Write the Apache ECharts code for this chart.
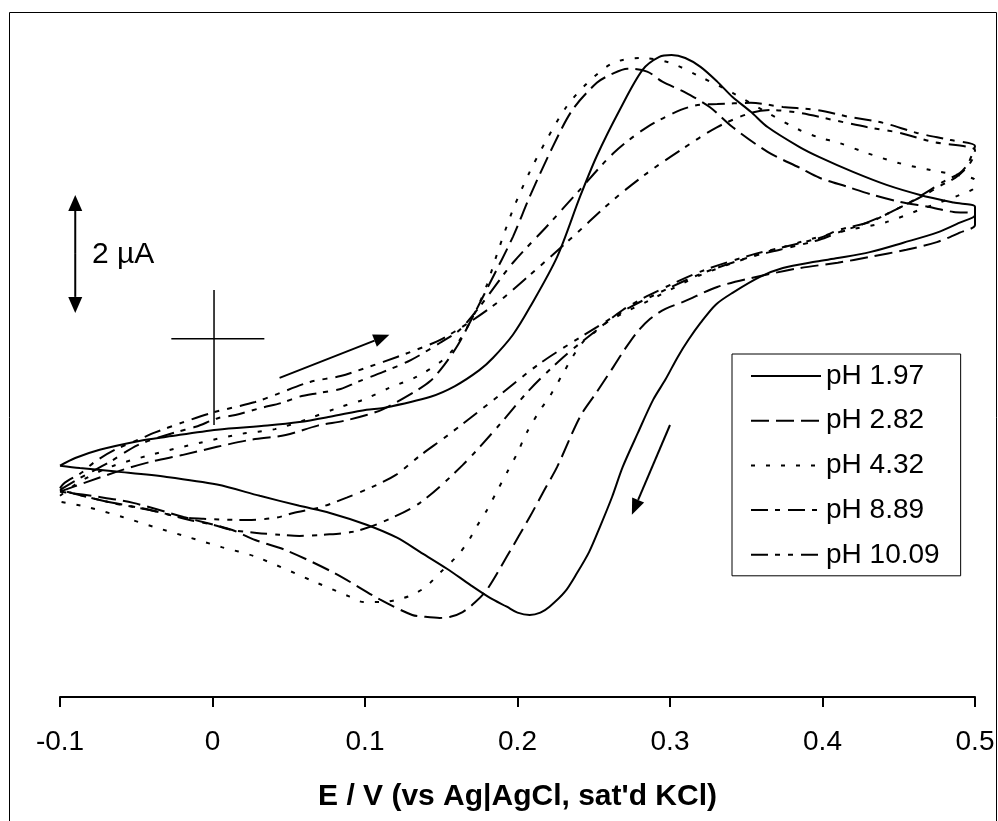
<!DOCTYPE html>
<html>
<head>
<meta charset="utf-8">
<script src="https://cdn.jsdelivr.net/npm/echarts@6/dist/echarts.min.js"></script>
<style>
html,body{margin:0;padding:0;background:#fff;}
#chart{width:998px;height:821px;}
</style>
</head>
<body>
<div id="chart"></div>
<script>
// Potential E (V vs Ag|AgCl) and current I (µA), as [E, I]
const seriesNames = ['pH 1.97', 'pH 2.82', 'pH 4.32', 'pH 8.89', 'pH 10.09'];
const xTicks = [-0.1, 0, 0.1, 0.2, 0.3, 0.4, 0.5];

const ph197 = [
  [-0.100,-2.15],[-0.090,-2.02],[-0.074,-1.88],[-0.048,-1.73],[-0.030,-1.66],[0.003,-1.54],
  [0.036,-1.47],[0.057,-1.41],[0.077,-1.32],[0.101,-1.20],[0.112,-1.17],[0.143,-0.98],
  [0.159,-0.80],[0.175,-0.53],[0.184,-0.32],[0.197,0.07],[0.208,0.53],[0.226,1.39],
  [0.241,2.41],[0.252,3.10],[0.267,3.88],[0.282,4.56],
  [0.293,4.78],[0.301,4.81],[0.310,4.76],[0.320,4.61],[0.331,4.36],[0.341,4.10],
  [0.353,3.85],[0.364,3.59],[0.385,3.25],[0.398,3.08],[0.420,2.83],[0.442,2.61],
  [0.464,2.44],[0.486,2.31],[0.500,2.24],
  [0.500,2.10],[0.490,1.97],[0.475,1.80],[0.453,1.63],[0.431,1.47],[0.410,1.37],
  [0.396,1.31],[0.374,1.20],[0.359,1.05],[0.341,0.78],[0.330,0.58],[0.320,0.27],
  [0.312,-0.02],[0.305,-0.31],[0.297,-0.69],[0.289,-1.03],[0.279,-1.59],[0.269,-2.17],
  [0.262,-2.68],[0.254,-3.19],[0.247,-3.61],[0.239,-3.97],[0.231,-4.29],[0.221,-4.54],
  [0.215,-4.64],[0.208,-4.68],[0.200,-4.64],[0.193,-4.54],[0.182,-4.39],[0.169,-4.17],
  [0.154,-3.90],[0.136,-3.61],[0.121,-3.37],[0.101,-3.15],[0.077,-2.95],[0.057,-2.83],
  [0.031,-2.66],[0.003,-2.47],[-0.030,-2.34],[-0.063,-2.25],[-0.087,-2.19],[-0.100,-2.15]
];

const ph282 = [
  [-0.100,-2.59],[-0.084,-2.44],[-0.059,-2.22],[-0.040,-2.08],[-0.020,-1.97],[0.003,-1.83],
  [0.025,-1.71],[0.048,-1.63],[0.069,-1.47],[0.086,-1.39],[0.101,-1.29],[0.112,-1.19],
  [0.131,-0.92],[0.143,-0.71],[0.152,-0.44],[0.161,-0.10],[0.169,0.29],[0.182,0.95],
  [0.197,1.73],[0.208,2.41],[0.223,3.25],[0.236,3.88],[0.252,4.34],
  [0.262,4.49],[0.272,4.58],[0.285,4.53],[0.295,4.36],[0.309,4.19],[0.326,3.93],
  [0.341,3.59],[0.364,3.17],[0.385,2.90],[0.398,2.73],[0.416,2.58],[0.433,2.44],
  [0.451,2.32],[0.469,2.24],[0.486,2.15],[0.500,2.12],
  [0.500,1.93],[0.490,1.80],[0.475,1.64],[0.455,1.51],[0.431,1.39],[0.410,1.29],
  [0.385,1.20],[0.353,1.03],[0.331,0.88],[0.309,0.63],[0.297,0.51],[0.287,0.34],
  [0.278,0.10],[0.270,-0.19],[0.263,-0.47],[0.252,-0.90],[0.241,-1.32],[0.226,-2.17],
  [0.217,-2.59],[0.208,-3.02],
  [0.193,-3.69],[0.180,-4.25],[0.172,-4.47],[0.164,-4.63],[0.156,-4.71],[0.149,-4.73],
  [0.139,-4.71],[0.131,-4.68],[0.110,-4.42],[0.080,-3.97],[0.048,-3.58],[0.028,-3.41],
  [0.013,-3.24],[-0.019,-3.02],[-0.052,-2.78],[-0.074,-2.68],[-0.100,-2.59]
];

const ph432 = [
  [-0.100,-2.66],[-0.087,-2.42],[-0.067,-2.17],[-0.041,-1.97],[-0.008,-1.76],[0.019,-1.61],
  [0.041,-1.53],[0.061,-1.37],[0.082,-1.17],[0.099,-1.03],[0.116,-0.83],[0.134,-0.64],
  [0.151,-0.36],[0.159,-0.14],[0.166,0.15],[0.173,0.49],[0.180,0.92],[0.187,1.47],
  [0.197,2.19],[0.208,2.83],[0.219,3.37],[0.232,3.93],[0.246,4.34],[0.263,4.68],
  [0.282,4.76],[0.300,4.68],[0.320,4.44],[0.341,4.17],[0.364,3.83],[0.385,3.54],
  [0.398,3.41],[0.411,3.32],[0.429,3.15],[0.450,2.98],[0.471,2.86],[0.488,2.78],[0.500,2.69],
  [0.500,2.58],[0.490,2.44],[0.464,2.19],[0.442,1.98],[0.418,1.85],[0.398,1.73],
  [0.372,1.54],[0.353,1.39],[0.320,1.08],[0.287,0.66],[0.261,0.32],[0.250,0.10],
  [0.243,-0.05],[0.236,-0.31],[0.230,-0.58],[0.221,-0.98],[0.215,-1.20],[0.206,-1.59],
  [0.200,-1.93],[0.193,-2.27],[0.187,-2.56],[0.180,-2.90],[0.173,-3.19],[0.167,-3.46],
  [0.160,-3.69],[0.149,-3.97],[0.140,-4.20],[0.131,-4.34],[0.121,-4.42],[0.112,-4.46],
  [0.099,-4.46],[0.090,-4.37],[0.069,-4.14],[0.028,-3.69],[0.006,-3.53],[-0.016,-3.36],
  [-0.038,-3.19],[-0.059,-3.02],[-0.082,-2.85],[-0.100,-2.76]
];

const ph889 = [
  [-0.100,-2.56],[-0.087,-2.36],[-0.067,-2.08],[-0.049,-1.80],[-0.025,-1.59],[-0.011,-1.49],
  [0.004,-1.34],[0.015,-1.29],[0.032,-1.17],[0.046,-1.08],[0.057,-0.98],[0.069,-0.92],
  [0.084,-0.85],[0.095,-0.73],[0.112,-0.56],[0.130,-0.36],[0.149,-0.07],[0.162,0.15],
  [0.175,0.54],[0.197,1.29],[0.219,1.90],[0.241,2.53],[0.263,3.15],[0.285,3.59],
  [0.307,3.88],[0.320,3.97],[0.331,3.98],[0.353,4.00],[0.374,3.93],[0.396,3.88],
  [0.418,3.76],[0.440,3.66],[0.462,3.49],[0.484,3.37],[0.500,3.27],
  [0.498,3.12],[0.495,2.95],[0.490,2.81],[0.479,2.66],[0.471,2.53],[0.457,2.31],
  [0.444,2.14],[0.431,1.98],[0.411,1.85],[0.398,1.71],[0.372,1.54],[0.353,1.42],
  [0.320,1.14],[0.287,0.75],[0.269,0.49],[0.252,0.15],[0.230,-0.31],[0.208,-0.86],
  [0.187,-1.49],[0.164,-2.14],[0.136,-2.78],[0.110,-3.12],[0.092,-3.27],[0.073,-3.32],
  [0.057,-3.34],[0.044,-3.32],[0.029,-3.29],[0.013,-3.24],[0.000,-3.15],[-0.015,-3.07],
  [-0.041,-2.90],[-0.074,-2.73],[-0.100,-2.56]
];

const ph1009 = [
  [-0.100,-2.53],[-0.097,-2.44],[-0.086,-2.27],[-0.077,-2.08],[-0.064,-1.88],[-0.046,-1.68],
  [-0.038,-1.59],[-0.020,-1.42],[0.000,-1.25],[0.028,-1.07],[0.041,-0.95],[0.064,-0.73],
  [0.084,-0.63],[0.103,-0.47],[0.112,-0.39],[0.130,-0.22],[0.149,-0.02],[0.169,0.29],
  [0.189,0.66],[0.208,1.08],[0.232,1.63],[0.263,2.36],[0.285,2.81],[0.307,3.20],
  [0.331,3.59],[0.353,3.83],[0.366,3.88],[0.385,3.83],[0.407,3.71],[0.429,3.59],
  [0.451,3.49],[0.472,3.34],[0.500,3.20],
  [0.498,3.03],[0.493,2.86],[0.487,2.73],[0.477,2.59],[0.467,2.44],[0.454,2.27],
  [0.441,2.10],[0.425,1.93],[0.411,1.81],[0.398,1.68],[0.372,1.51],[0.353,1.39],
  [0.320,1.10],[0.287,0.71],[0.274,0.54],[0.252,0.20],[0.215,-0.41],[0.187,-0.98],
  [0.154,-1.64],[0.136,-1.98],[0.120,-2.31],[0.103,-2.53],[0.088,-2.69],[0.070,-2.86],
  [0.053,-2.95],[0.042,-3.03],[0.023,-3.07],[-0.006,-3.05],[-0.021,-3.02],[-0.041,-2.90],
  [-0.066,-2.78],[-0.100,-2.56]
];

const curves = [ph197, ph282, ph432, ph889, ph1009];
const dashes = ['solid', [18, 7], [4, 11], [17, 7, 5, 8], [17, 7, 5, 8, 5, 8]];

// Annotations in data units (E, I)
const crossH = [[-0.027, 0], [0.034, 0]];
const crossV = [[0.001, 0.83], [0.001, -1.46]];
const fwdArrow = [[0.044, -0.66], [0.116, 0.07]];
const revArrow = [[0.300, -1.46], [0.275, -2.98]];
const scaleBar = [[-0.090, 2.44], [-0.090, 0.44]];
const scaleLabel = {pos: [-0.079, 1.42], text: '2 \u00b5A'};

const FONT = '"Liberation Sans", Arial, sans-serif';

const chart = echarts.init(document.getElementById('chart'), null, {renderer: 'canvas'});

const option = {
  animation: false,
  backgroundColor: '#fff',
  grid: {left: 60, right: 23, top: 8.47, bottom: 124, containLabel: false},
  legend: {
    orient: 'vertical',
    left: 732, top: 354,
    data: seriesNames,
    itemWidth: 70, itemHeight: 30, itemGap: 14.7,
    padding: [7, 21, 6, 18],
    borderColor: '#000', borderWidth: 1,
    backgroundColor: '#fff',
    itemStyle: {opacity: 0},
    textStyle: {color: '#000', fontSize: 28, fontFamily: FONT, lineHeight: 30},
    selectedMode: false
  },
  xAxis: {
    type: 'value', min: xTicks[0], max: xTicks[xTicks.length - 1], interval: 0.1,
    position: 'bottom',
    axisLine: {onZero: false, lineStyle: {color: '#000', width: 2}},
    axisTick: {show: true, length: 10, inside: false, lineStyle: {color: '#000', width: 2}},
    axisLabel: {
      color: '#000', fontSize: 28, fontFamily: FONT, margin: 31,
      showMinLabel: true, showMaxLabel: true,
      formatter: v => { const r = Math.round(v * 10) / 10; return r === 0 ? '0' : String(r); }
    },
    splitLine: {show: false},
    name: "E / V (vs Ag|AgCl, sat'd KCl)",
    nameLocation: 'middle', nameGap: 85,
    nameTextStyle: {color: '#000', fontSize: 30, fontWeight: 'bold', fontFamily: FONT}
  },
  yAxis: {type: 'value', min: -6.07, max: 5.6, show: false},
  series: curves.map((d, k) => ({
    name: seriesNames[k],
    type: 'line',
    data: d,
    symbol: 'none',
    showSymbol: false,
    smooth: 0.3,
    clip: false,
    itemStyle: {color: '#000'},
    lineStyle: {color: '#000', width: 2, type: dashes[k], cap: 'butt'}
  }))
};
chart.setOption(option);

function P(p) { return chart.convertToPixel({xAxisIndex: 0, yAxisIndex: 0}, p); }

function arrow(from, to, len, half) {
  const a = P(from), b = P(to);
  const dx = b[0] - a[0], dy = b[1] - a[1];
  const L = Math.hypot(dx, dy), ux = dx / L, uy = dy / L;
  const base = [b[0] - ux * len, b[1] - uy * len];
  return [
    {type: 'polyline', shape: {points: [a, base]}, style: {stroke: '#000', lineWidth: 2, fill: null}, silent: true},
    {type: 'polygon', shape: {points: [b, [base[0] - uy * half, base[1] + ux * half], [base[0] + uy * half, base[1] - ux * half]]},
     style: {fill: '#000', stroke: null}, silent: true}
  ];
}

const g = [];
g.push({type: 'rect', shape: {x: 9.5, y: 12.5, width: 987, height: 815}, style: {fill: null, stroke: '#000', lineWidth: 1}, silent: true, z: -1});
g.push({type: 'polyline', shape: {points: crossH.map(P)}, style: {stroke: '#000', lineWidth: 1.5, fill: null}, silent: true});
g.push({type: 'polyline', shape: {points: crossV.map(P)}, style: {stroke: '#000', lineWidth: 1.5, fill: null}, silent: true});
g.push(...arrow(fwdArrow[0], fwdArrow[1], 16, 6.5));
g.push(...arrow(revArrow[0], revArrow[1], 16, 6.5));
const mid = [(scaleBar[0][0] + scaleBar[1][0]) / 2, (scaleBar[0][1] + scaleBar[1][1]) / 2];
g.push(...arrow(mid, scaleBar[0], 16, 7));
g.push(...arrow(mid, scaleBar[1], 16, 7));
const lp = P(scaleLabel.pos);
g.push({type: 'text', x: lp[0], y: lp[1], style: {text: scaleLabel.text, fill: '#000', fontSize: 30, fontFamily: FONT, verticalAlign: 'middle', align: 'left'}, silent: true});

chart.setOption({graphic: g});
</script>
</body>
</html>
